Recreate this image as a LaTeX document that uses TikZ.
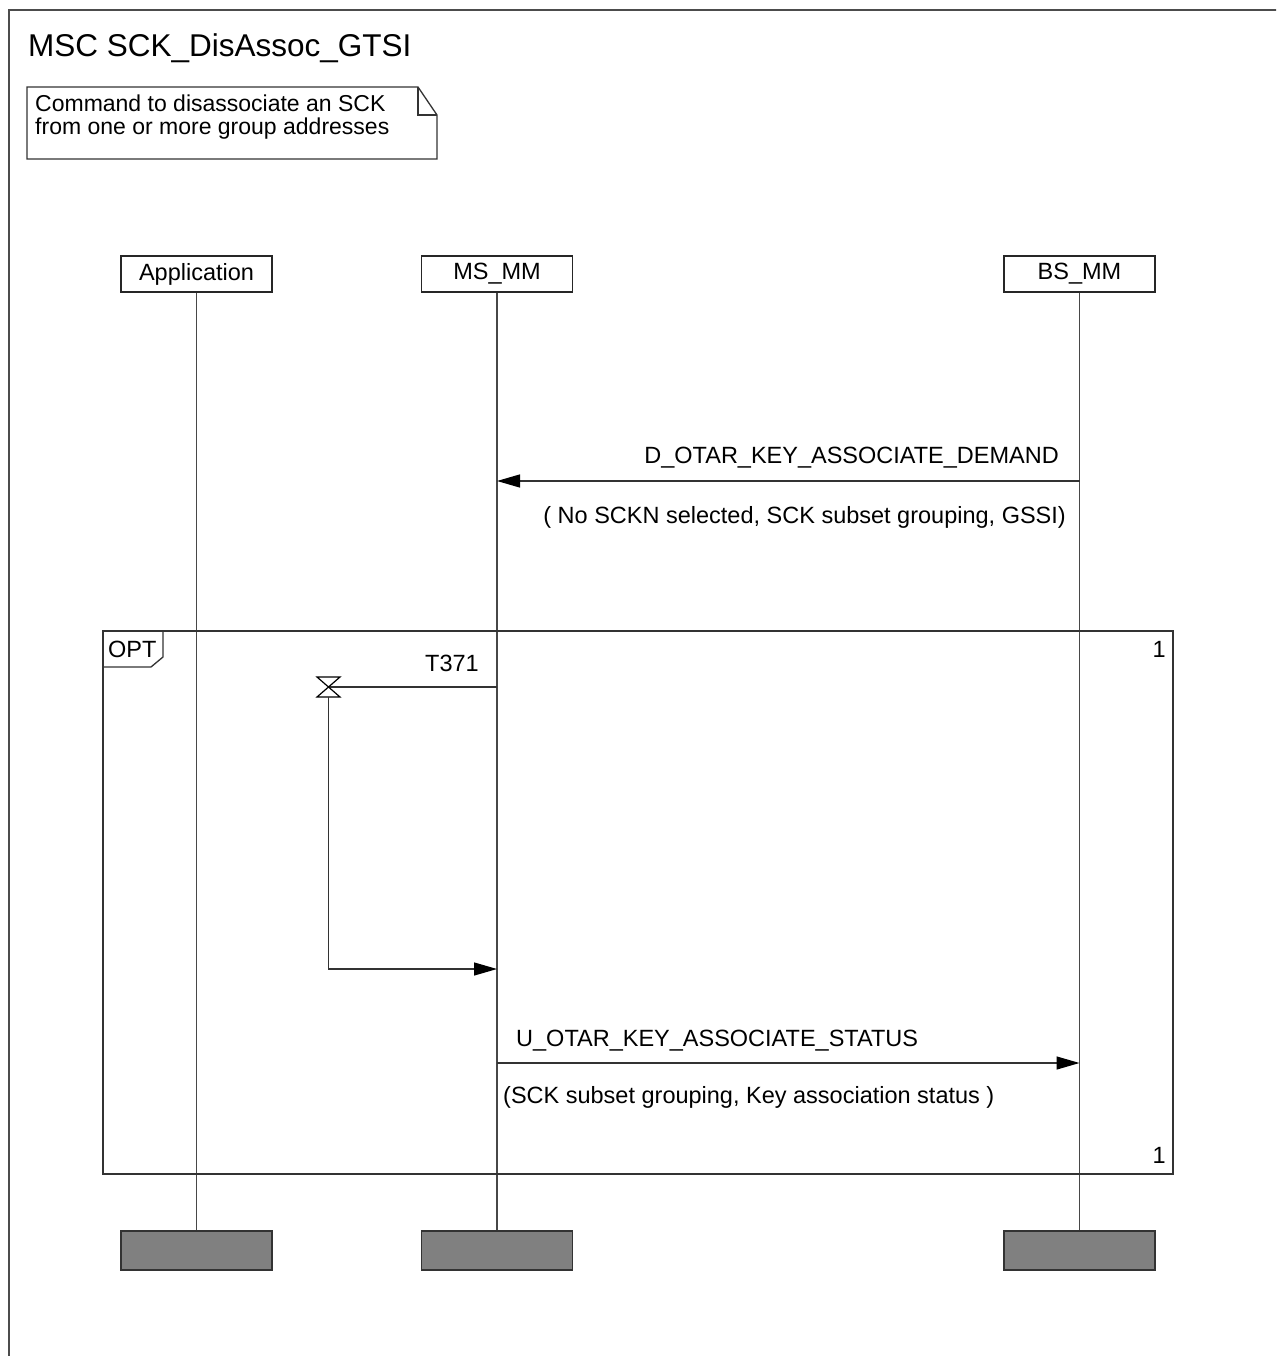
\documentclass[tikz,border=0pt]{standalone}
\usepackage{fontspec}
\setmainfont{Liberation Sans}
\usetikzlibrary{arrows.meta}
\newcommand\lab{\fontsize{23.5}{27}\selectfont}
\newcommand\notefont{\fontsize{23}{26}\selectfont}
\newcommand\titlefont{\fontsize{31.5}{36}\selectfont}
\tikzset{
  inst/.style={draw=black!85, line width=1.3pt, minimum width=151pt, minimum height=36pt, inner sep=0pt, font=\lab},
  endbar/.style={draw=black!80, line width=1.3pt, fill=black!50, minimum width=151pt, minimum height=39pt, inner sep=0pt},
  life/.style={draw=black!72, line width=1.6pt},
  msg/.style={draw=black!80, line width=1.3pt, -{Triangle[length=23pt,width=13pt,color=black,fill=black]}},
  plain/.style={draw=black!80, line width=1.3pt},
  lbl/.style={font=\lab, inner sep=0pt},
  framestyle/.style={draw=black!70, line width=1.5pt},
}
\begin{document}
\begin{tikzpicture}[x=1pt,y=-1pt]
\useasboundingbox (0,0) rectangle (1276,1356);
\clip (0,0) rectangle (1276,1356);
\fill[white] (0,0) rectangle (1276,1356);
% outer frame (extends beyond the picture on right and bottom)
\draw[framestyle] (9,1400) -- (9,10) -- (1300,10);
% title
\node[anchor=base west, inner sep=0pt, font=\titlefont] (title) at (28,57) {MSC SCK\_DisAssoc\_GTSI};
% note
\draw[plain] (27,87) -- (418,87) -- (437,115) -- (437,159) -- (27,159) -- cycle;
\draw[plain] (418,87) -- (418,115) -- (437,115);
\node[anchor=base west, inner sep=0pt, font=\notefont] (note1) at (35,112) {Command to disassociate an SCK};
\node[anchor=base west, inner sep=0pt, font=\notefont] (note2) at (35,135) {from one or more group addresses};
% instance heads
\node[inst] (app) at (196.5,274) {Application};
\node[inst] (ms) at (497,274) {MS\_MM};
\node[inst] (bs) at (1079.5,274) {BS\_MM};
% end bars
\node[endbar] (append) at (196.5,1250.5) {};
\node[endbar] (msend) at (497,1250.5) {};
\node[endbar] (bsend) at (1079.5,1250.5) {};
% lifelines
\draw[life] (app.south) -- (append.north);
\draw[life] (ms.south) -- (msend.north);
\draw[life] (bs.south) -- (bsend.north);
% message 1
\coordinate (bsA) at (1079.5,481);
\coordinate (msA) at (497,481);
\draw[msg] (bsA) -- (msA);
\node[lbl, anchor=base east] (dlab) at (1059,463) {D\_OTAR\_KEY\_ASSOCIATE\_DEMAND};
\node[lbl, anchor=base east] (dpar) at (1066,523) {( No SCKN selected, SCK subset grouping, GSSI)};
% OPT frame
\draw[plain] (103,631) rectangle (1173,1174);
\draw[plain] (103,631) -- (163,631) -- (163,657) -- (151,667) -- (103,667);
\node[lbl, anchor=base west] (opt) at (108,657) {OPT};
\node[lbl, anchor=base east] (one1) at (1166,657) {1};
\node[lbl, anchor=base east] (one2) at (1166,1163) {1};
% timer T371
\coordinate (msT) at (497,687);
\coordinate (tmr) at (328.5,687);
\coordinate (tbot) at (328.5,697);
\coordinate (tcorner) at (328.5,969);
\coordinate (msR) at (497,969);
\draw[plain] (msT) -- (tmr);
\draw[draw=black, line width=1.2pt] (317,677) -- (340,677) -- (317,697) -- (340,697) -- cycle;
\draw[msg] (tbot) -- (tcorner) -- (msR);
\node[lbl, anchor=base east] (tlab) at (479,671) {T371};
% message 2
\coordinate (msB) at (497,1063);
\coordinate (bsB) at (1079.5,1063);
\draw[msg] (msB) -- (bsB);
\node[lbl, anchor=base west] (ulab) at (516,1046) {U\_OTAR\_KEY\_ASSOCIATE\_STATUS};
\node[lbl, anchor=base west] (upar) at (503,1103) {(SCK subset grouping, Key association status )};
\end{tikzpicture}
\end{document}
